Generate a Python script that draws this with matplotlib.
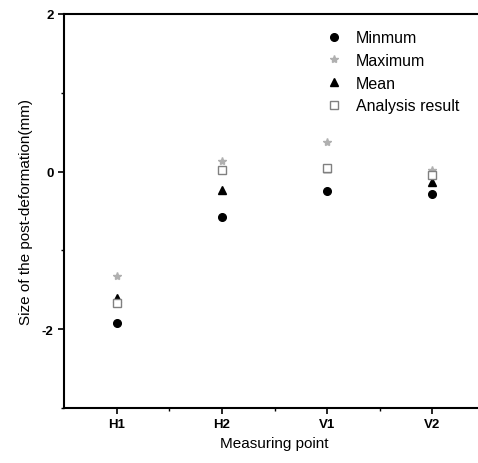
import matplotlib
matplotlib.use("Agg")
import matplotlib.pyplot as plt
from matplotlib.ticker import FixedLocator

plt.rcParams['font.family'] = ['Liberation Sans', 'DejaVu Sans']
plt.rcParams['axes.unicode_minus'] = False

points = ["H1", "H2", "V1", "V2"]
minimum = [-1.92, -0.57, -0.25, -0.28]
maximum = [-1.33, 0.13, 0.38, 0.02]
mean = [-1.60, -0.23, 0.05, -0.13]
analysis = [-1.67, 0.02, 0.05, -0.04]

fig = plt.figure(figsize=(4.78, 4.64), dpi=100)
W, H = 478, 464
left, right, top, bottom = 64, 485, 15, 409
ax = fig.add_axes([left / W, (H - bottom) / H, (right - left) / W, (bottom - top) / H])

x = list(range(1, len(points) + 1))
ax.plot(x, minimum, 'o', color='black', ms=5.5, label='Minmum', zorder=3)
ax.plot(x, maximum, '*', color='#b0b0b0', ms=6, label='Maximum', zorder=3)
ax.plot(x, mean, '^', color='black', ms=6, label='Mean', zorder=3)
ax.plot(x, analysis, 's', mfc='white', mec='#808080', mew=1.0, ms=5.5, label='Analysis result', zorder=4)

ax.set_xlim(0.5, 4.5)
ax.set_ylim(-3, 2)
ax.set_xticks(x)
ax.set_xticklabels(points)
ax.xaxis.set_minor_locator(FixedLocator([1.5, 2.5, 3.5]))
ax.set_yticks([-2, 0, 2])
ax.yaxis.set_minor_locator(FixedLocator([-3, -1, 1]))
ax.tick_params(axis='both', which='major', direction='out', length=4, width=1.2, labelsize=9.5)
ax.tick_params(axis='both', which='minor', direction='out', length=2.5, width=1.0)
for lab in ax.get_yticklabels() + ax.get_xticklabels():
    lab.set_fontweight('bold')
for s in ax.spines.values():
    s.set_linewidth(1.5)

ax.set_xlabel('Measuring point', fontsize=11, labelpad=4)
ax.set_ylabel('Size of the post-deformation(mm)', fontsize=11, labelpad=6)

leg = ax.legend(loc='upper left', bbox_to_anchor=((316 - left) / (right - left), 1 - (25 - top) / (bottom - top)),
                frameon=False, fontsize=11.5, handletextpad=0.6, labelspacing=0.48, borderaxespad=0,
                handlelength=1.5)

fig.savefig('out.png', dpi=100)
